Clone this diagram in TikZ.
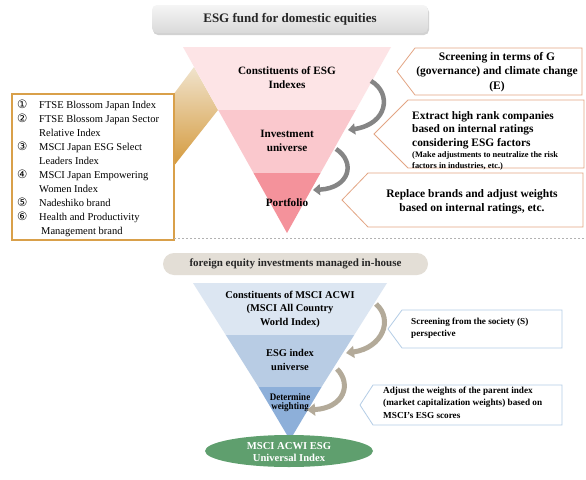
\documentclass[tikz,border=0pt]{standalone}
\usepackage{fontspec}
\setmainfont{Liberation Serif}
\newfontfamily\djv{DejaVu Sans}
\usetikzlibrary{shadows,arrows.meta,shapes.geometric}
\definecolor{pkA}{HTML}{FDE4E6}
\definecolor{pkB}{HTML}{FAC8CD}
\definecolor{pkC}{HTML}{F4929B}
\definecolor{blA}{HTML}{DCE6F2}
\definecolor{blB}{HTML}{B8CCE4}
\definecolor{blC}{HTML}{8DAFD9}
\definecolor{tanL}{HTML}{F0E3CC}
\definecolor{tanD}{HTML}{D4993B}
\definecolor{goldbox}{HTML}{D9A04A}
\definecolor{callbr}{HTML}{E3A584}
\definecolor{callbl}{HTML}{B4CDE6}
\definecolor{ellgreen}{HTML}{5F9F6E}
\definecolor{arrgray}{HTML}{858585}
\definecolor{arrtan}{HTML}{B3AA99}
\definecolor{bannerB}{HTML}{E3DED6}
\tikzset{
  callA/.style={draw=callbr, line width=0.8pt, fill=white},
  callB/.style={draw=callbl, line width=0.8pt, fill=white},
  btxt/.style={font=\bfseries\fontsize{11.2}{14}\selectfont, align=center, inner sep=0pt},
  ctxt/.style={font=\bfseries\fontsize{11.5}{14.3}\selectfont, inner sep=0pt},
  stxt/.style={font=\bfseries\fontsize{9.2}{12.5}\selectfont, align=left, inner sep=0pt},
  curvA/.style={arrgray, line width=4.5pt, -{Triangle[width=11pt,length=7pt]}},
  curvB/.style={arrtan, line width=5pt, -{Triangle[width=12pt,length=8pt]}},
}
\newcommand{\circnum}[1]{\makebox[22pt][l]{\raisebox{-0.5pt}{\djv\fontsize{11.5}{14}\selectfont #1}}}
\begin{document}
\begin{tikzpicture}[x=1pt,y=-1pt]
\useasboundingbox (0,0) rectangle (586,479);
\fill[white] (0,0) rectangle (586,479);

% ---------- top banner
\node[draw=none, rounded corners=5pt, minimum width=276pt, minimum height=28pt,
  top color=gray!8, bottom color=gray!30,
  drop shadow={opacity=0.35, shadow xshift=1pt, shadow yshift=-2pt},
  font=\bfseries\fontsize{13}{15}\selectfont, text=black!85] (title) at (290,19) {ESG fund for domestic equities};

% ---------- tan wedge
\shade[top color=tanL, bottom color=tanD] (173,95) -- (194,67) -- (218,110) -- (173,167) -- cycle;

% ---------- top inverted triangle
\fill[pkA] (183,47) -- (391,47) -- (355.8,110) -- (218.2,110) -- cycle;
\fill[pkB] (218.2,110) -- (355.8,110) -- (320.5,173) -- (253.5,173) -- cycle;
\fill[pkC] (253.5,173) -- (320.5,173) -- (287,233) -- cycle;
\node[btxt] (t1) at (287,78) {Constituents of ESG\\Indexes};
\node[btxt] (t2) at (287,141) {Investment\\universe};
\node[btxt] (t3) at (287,203) {Portfolio};

% ---------- left list box
\draw[goldbox, line width=1.2pt] (12,94) rectangle (174,240);
\node[anchor=north west, align=left, inner sep=0pt, font=\fontsize{10.5}{14}\selectfont] (list) at (17,100) {%
\circnum{①}FTSE Blossom Japan Index\\
\circnum{②}FTSE Blossom Japan Sector\\
\circnum{}Relative Index\\
\circnum{③}MSCI Japan ESG Select\\
\circnum{}Leaders Index\\
\circnum{④}MSCI Japan Empowering\\
\circnum{}Women Index\\
\circnum{⑤}Nadeshiko brand\\
\circnum{⑥}Health and Productivity\\
\makebox[24pt][l]{}Management brand};

% ---------- top callouts
\draw[callA] (415,48) -- (582,48) -- (582,95) -- (415,95) -- (397,71.5) -- cycle;
\draw[callA] (408,100) -- (584,100) -- (584,168) -- (408,168) -- (374,134) -- cycle;
\draw[callA] (368,173) -- (583,173) -- (583,227) -- (368,227) -- (342,200) -- cycle;
\node[ctxt, align=center] (c1) at (497,72) {Screening in terms of G\\(governance) and climate change\\(E)};
\node[ctxt, align=left, anchor=west, font=\bfseries\fontsize{11.4}{13.6}\selectfont] (c2) at (412,130) {Extract high rank companies\\based on internal ratings\\considering ESG factors};
\node[font=\bfseries\fontsize{8.4}{11}\selectfont, align=left, anchor=west, inner sep=0pt] (c2b) at (412,161) {(Make adjustments to neutralize the risk\\factors in industries, etc.)};
\node[ctxt, align=center] (c3) at (472,201.5) {Replace brands and adjust weights\\based on internal ratings, etc.};

% ---------- top curved arrows
\coordinate (a1s) at (371,81);
\coordinate (a1e) at (348,130);
\coordinate (a2s) at (336,149);
\coordinate (a2e) at (313,190);
\draw[curvA] (a1s) .. controls (392,93) and (388,124) .. (a1e);
\draw[curvA] (a2s) .. controls (356,162) and (350,188) .. (a2e);

% ---------- separator
\draw[gray!60, dashed, dash pattern=on 2pt off 2pt, line width=0.6pt] (174,238) -- (586,238);

% ---------- bottom banner
\node[fill=bannerB, rounded corners=11pt, minimum width=265pt, minimum height=22pt,
  font=\bfseries\fontsize{11}{13}\selectfont, text=black!85] (title2) at (295.5,264) {foreign equity investments managed in-house};

% ---------- bottom inverted triangle
\fill[blA] (193,283) -- (387,283) -- (354.2,335) -- (225.8,335) -- cycle;
\fill[blB] (225.8,335) -- (354.2,335) -- (321.5,387) -- (258.5,387) -- cycle;
\fill[blC] (258.5,387) -- (321.5,387) -- (290,440) -- cycle;
\node[btxt, font=\bfseries\fontsize{10.4}{13.5}\selectfont] (b1) at (290,309) {Constituents of MSCI ACWI\\(MSCI All Country\\World Index)};
\node[btxt, font=\bfseries\fontsize{10.4}{13.5}\selectfont] (b2) at (290,360) {ESG index\\universe};
\node[inner sep=0pt, font=\bfseries\fontsize{10}{11}\selectfont] (b3) at (290,403) {\scalebox{0.9}[1]{\begin{tabular}{@{}c@{}}Determine\\[-2pt]weighting\end{tabular}}};
\node[ellipse, fill=ellgreen, minimum width=168pt, minimum height=32pt] (ell) at (289,451) {};
\node[btxt, text=white, font=\bfseries\fontsize{10.6}{12.5}\selectfont] (elltxt) at (289,452) {MSCI ACWI ESG\\Universal Index};

% ---------- bottom callouts
\draw[callB] (402,310) -- (562,310) -- (562,348) -- (402,348) -- (388,329) -- cycle;
\draw[callB] (373,385) -- (562,385) -- (562,425) -- (373,425) -- (360,405) -- cycle;
\node[stxt, anchor=west] (d1) at (411,328) {Screening from the society (S)\\perspective};
\node[stxt, anchor=west] (d2) at (383,402.5) {Adjust the weights of the parent index\\(market capitalization weights) based on\\MSCI's ESG scores};

% ---------- bottom curved arrows
\coordinate (b1s) at (376,304);
\coordinate (b1e) at (346,353);
\coordinate (b2s) at (337,369);
\coordinate (b2e) at (307,410);
\draw[curvB] (b1s) .. controls (394,320) and (382,348) .. (b1e);
\draw[curvB] (b2s) .. controls (352,384) and (344,408) .. (b2e);
\end{tikzpicture}
\end{document}
